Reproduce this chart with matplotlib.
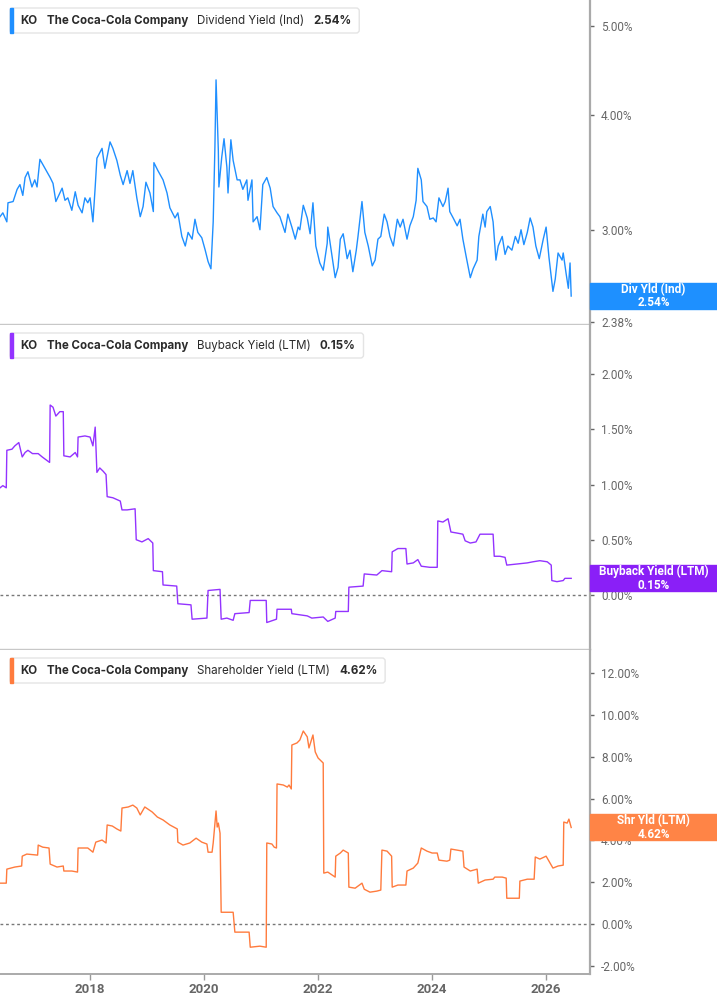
import matplotlib
matplotlib.use("Agg")
import numpy as np
import matplotlib.pyplot as plt
from matplotlib.patches import Rectangle, FancyBboxPatch
from matplotlib.ticker import FixedLocator, NullLocator, FuncFormatter
from matplotlib.transforms import IdentityTransform

plt.rcParams["font.family"] = ["Roboto", "DejaVu Sans"]

# ---- data (decimal years, values in %) ----
div_years = [2016.42, 2016.47, 2016.54, 2016.56, 2016.65, 2016.72, 2016.77, 2016.82, 2016.86, 2016.91,
             2016.98, 2017.03, 2017.07, 2017.12, 2017.21, 2017.30, 2017.35, 2017.40, 2017.47, 2017.51,
             2017.56, 2017.61, 2017.68, 2017.74, 2017.79, 2017.86, 2017.91, 2017.96, 2018.00, 2018.05,
             2018.09, 2018.12, 2018.21, 2018.26, 2018.35, 2018.40, 2018.47, 2018.53, 2018.58, 2018.65,
             2018.70, 2018.75, 2018.82, 2018.88, 2018.93, 2018.98, 2019.05, 2019.11, 2019.12, 2019.19,
             2019.28, 2019.35, 2019.40, 2019.49, 2019.54, 2019.61, 2019.67, 2019.72, 2019.79, 2019.84,
             2019.89, 2019.96, 2020.02, 2020.07, 2020.12, 2020.16, 2020.19, 2020.21, 2020.25, 2020.26,
             2020.31, 2020.35, 2020.40, 2020.42, 2020.47, 2020.51, 2020.58, 2020.63, 2020.68, 2020.75,
             2020.77, 2020.84, 2020.86, 2020.93, 2020.98, 2021.03, 2021.10, 2021.16, 2021.21, 2021.28,
             2021.33, 2021.42, 2021.47, 2021.54, 2021.60, 2021.65, 2021.68, 2021.74, 2021.81, 2021.86,
             2021.91, 2021.96, 2022.03, 2022.09, 2022.16, 2022.17, 2022.24, 2022.30, 2022.35, 2022.39,
             2022.44, 2022.51, 2022.56, 2022.61, 2022.67, 2022.70, 2022.77, 2022.82, 2022.88, 2022.95,
             2023.00, 2023.05, 2023.10, 2023.16, 2023.21, 2023.26, 2023.32, 2023.39, 2023.44, 2023.49,
             2023.56, 2023.61, 2023.67, 2023.72, 2023.75, 2023.81, 2023.84, 2023.91, 2023.96, 2024.02,
             2024.07, 2024.12, 2024.19, 2024.23, 2024.28, 2024.31, 2024.37, 2024.44, 2024.49, 2024.54,
             2024.60, 2024.67, 2024.72, 2024.79, 2024.82, 2024.89, 2024.93, 2024.96, 2025.02, 2025.07,
             2025.12, 2025.16, 2025.23, 2025.28, 2025.33, 2025.40, 2025.46, 2025.51, 2025.56, 2025.61,
             2025.67, 2025.72, 2025.77, 2025.82, 2025.88, 2025.95, 2026.00, 2026.05, 2026.12, 2026.16,
             2026.21, 2026.28, 2026.30, 2026.35, 2026.39, 2026.42, 2026.44]
div_yield = [3.10, 3.13, 3.06, 3.21, 3.22, 3.32, 3.36, 3.27, 3.42, 3.47,
             3.34, 3.40, 3.34, 3.58, 3.50, 3.42, 3.37, 3.22, 3.29, 3.33,
             3.23, 3.25, 3.15, 3.30, 3.19, 3.13, 3.25, 3.21, 3.25, 3.06,
             3.34, 3.59, 3.68, 3.50, 3.74, 3.68, 3.57, 3.44, 3.36, 3.48,
             3.37, 3.48, 3.25, 3.10, 3.18, 3.38, 3.29, 3.14, 3.55, 3.48,
             3.40, 3.29, 3.17, 3.09, 3.13, 2.95, 2.88, 2.98, 2.93, 3.08,
             2.98, 2.94, 2.85, 2.77, 2.72, 3.06, 3.69, 4.37, 3.66, 3.34,
             3.60, 3.77, 3.51, 3.29, 3.76, 3.57, 3.40, 3.40, 3.32, 3.40,
             3.23, 3.40, 3.06, 3.10, 3.00, 3.36, 3.42, 3.33, 3.18, 3.13,
             3.10, 2.98, 3.12, 3.02, 2.93, 3.02, 3.00, 3.19, 3.09, 2.97,
             3.21, 2.88, 2.76, 2.71, 2.90, 3.02, 2.82, 2.66, 2.73, 2.93,
             2.97, 2.79, 2.85, 2.70, 2.85, 2.95, 3.22, 2.98, 2.88, 2.74,
             2.78, 2.93, 2.95, 3.12, 3.06, 2.95, 2.88, 3.08, 3.02, 3.08,
             2.93, 3.03, 3.10, 3.23, 3.50, 3.40, 3.22, 3.18, 3.08, 3.09,
             3.06, 3.25, 3.18, 3.22, 3.33, 3.14, 3.09, 3.03, 3.08, 2.93,
             2.80, 2.66, 2.72, 2.78, 2.95, 3.12, 3.02, 3.14, 3.18, 3.06,
             2.78, 2.88, 2.95, 2.82, 2.88, 2.85, 2.95, 2.90, 3.00, 2.89,
             2.98, 3.09, 3.02, 2.88, 2.79, 2.93, 3.02, 2.80, 2.57, 2.65,
             2.83, 2.78, 2.83, 2.69, 2.59, 2.76, 2.54]

bb_years = [2016.42, 2016.47, 2016.53, 2016.54, 2016.63, 2016.68, 2016.75, 2016.81, 2016.86, 2016.91,
            2016.99, 2017.09, 2017.16, 2017.29, 2017.30, 2017.35, 2017.40, 2017.47, 2017.53, 2017.54,
            2017.65, 2017.74, 2017.78, 2017.79, 2017.91, 2018.00, 2018.05, 2018.09, 2018.12, 2018.17,
            2018.23, 2018.28, 2018.30, 2018.40, 2018.53, 2018.56, 2018.65, 2018.79, 2018.81, 2018.91,
            2019.02, 2019.10, 2019.11, 2019.27, 2019.28, 2019.52, 2019.54, 2019.77, 2019.79, 2020.05,
            2020.07, 2020.28, 2020.30, 2020.40, 2020.51, 2020.54, 2020.79, 2020.81, 2021.09, 2021.10,
            2021.27, 2021.28, 2021.53, 2021.54, 2021.81, 2021.89, 2022.09, 2022.17, 2022.30, 2022.31,
            2022.53, 2022.54, 2022.79, 2022.81, 2023.03, 2023.12, 2023.29, 2023.30, 2023.40, 2023.54,
            2023.56, 2023.67, 2023.75, 2023.81, 2023.96, 2024.09, 2024.10, 2024.19, 2024.28, 2024.33,
            2024.44, 2024.54, 2024.58, 2024.67, 2024.77, 2024.84, 2024.96, 2025.07, 2025.09, 2025.19,
            2025.28, 2025.31, 2025.49, 2025.67, 2025.77, 2025.89, 2026.02, 2026.09, 2026.10, 2026.19,
            2026.30, 2026.33, 2026.44]
bb_yield = [0.97, 0.99, 0.97, 1.31, 1.32, 1.35, 1.38, 1.25, 1.29, 1.31,
            1.28, 1.28, 1.25, 1.20, 1.72, 1.70, 1.62, 1.66, 1.66, 1.26,
            1.25, 1.29, 1.25, 1.43, 1.44, 1.43, 1.35, 1.52, 1.11, 1.15,
            1.12, 1.09, 0.89, 0.88, 0.85, 0.77, 0.77, 0.78, 0.50, 0.48,
            0.51, 0.47, 0.22, 0.21, 0.09, 0.08, -0.08, -0.09, -0.22, -0.21,
            0.04, 0.05, -0.22, -0.21, -0.23, -0.17, -0.16, -0.05, -0.05, -0.25,
            -0.22, -0.13, -0.13, -0.17, -0.19, -0.21, -0.20, -0.24, -0.21, -0.15,
            -0.15, 0.07, 0.08, 0.19, 0.18, 0.22, 0.21, 0.39, 0.42, 0.42,
            0.28, 0.29, 0.32, 0.26, 0.25, 0.25, 0.67, 0.66, 0.69, 0.57,
            0.56, 0.55, 0.49, 0.47, 0.48, 0.55, 0.55, 0.55, 0.35, 0.35,
            0.34, 0.27, 0.28, 0.29, 0.30, 0.31, 0.30, 0.27, 0.13, 0.12,
            0.13, 0.15, 0.15]

shr_years = [2016.42, 2016.53, 2016.54, 2016.68, 2016.80, 2016.81, 2016.89, 2017.08, 2017.09, 2017.17,
             2017.28, 2017.30, 2017.42, 2017.53, 2017.54, 2017.68, 2017.78, 2017.79, 2017.96, 2018.05,
             2018.10, 2018.21, 2018.28, 2018.30, 2018.39, 2018.47, 2018.54, 2018.56, 2018.67, 2018.75,
             2018.82, 2018.88, 2018.96, 2019.09, 2019.18, 2019.28, 2019.40, 2019.53, 2019.54, 2019.63,
             2019.75, 2019.86, 2019.96, 2020.05, 2020.07, 2020.14, 2020.16, 2020.21, 2020.23, 2020.25,
             2020.28, 2020.30, 2020.51, 2020.54, 2020.79, 2020.81, 2020.98, 2021.09, 2021.10, 2021.19,
             2021.23, 2021.27, 2021.28, 2021.39, 2021.46, 2021.49, 2021.53, 2021.54, 2021.63, 2021.68,
             2021.74, 2021.81, 2021.84, 2021.91, 2021.95, 2022.00, 2022.07, 2022.09, 2022.10, 2022.17,
             2022.30, 2022.31, 2022.39, 2022.44, 2022.53, 2022.54, 2022.65, 2022.77, 2022.81, 2022.91,
             2023.03, 2023.10, 2023.12, 2023.21, 2023.29, 2023.30, 2023.40, 2023.54, 2023.56, 2023.67,
             2023.75, 2023.81, 2023.91, 2024.00, 2024.09, 2024.12, 2024.26, 2024.31, 2024.33, 2024.44,
             2024.54, 2024.56, 2024.67, 2024.79, 2024.81, 2024.93, 2025.07, 2025.10, 2025.23, 2025.30,
             2025.31, 2025.42, 2025.53, 2025.54, 2025.67, 2025.79, 2025.81, 2025.89, 2026.00, 2026.07,
             2026.12, 2026.21, 2026.30, 2026.31, 2026.37, 2026.40, 2026.44]
shr_yield = [1.96, 1.96, 2.63, 2.73, 2.78, 3.25, 3.35, 3.30, 3.78, 3.68,
             3.64, 2.87, 2.73, 2.78, 2.54, 2.54, 2.49, 3.64, 3.64, 3.44,
             3.92, 4.02, 3.88, 4.74, 4.69, 4.55, 4.45, 5.55, 5.60, 5.69,
             5.55, 5.22, 5.60, 5.36, 5.12, 4.98, 4.74, 4.55, 3.92, 3.78,
             3.88, 4.11, 3.92, 3.83, 3.44, 3.44, 3.88, 5.41, 4.64, 4.83,
             4.35, 0.57, 0.57, -0.38, -0.38, -1.10, -1.05, -1.10, 3.88, 3.83,
             3.68, 3.64, 6.70, 6.65, 6.55, 6.65, 6.46, 8.56, 8.66, 8.80,
             9.23, 8.95, 8.42, 9.04, 8.23, 7.94, 7.75, 7.70, 2.44, 2.49,
             2.25, 3.25, 3.40, 3.54, 3.40, 1.77, 1.72, 1.96, 1.67, 1.53,
             1.58, 1.63, 3.54, 3.49, 3.25, 1.77, 1.87, 1.87, 2.54, 2.68,
             2.92, 3.64, 3.49, 3.40, 3.40, 3.06, 3.01, 3.06, 3.59, 3.54,
             3.49, 2.73, 2.54, 2.63, 1.96, 2.11, 2.15, 2.25, 2.25, 2.20,
             1.24, 1.24, 1.24, 2.06, 2.15, 2.15, 3.21, 3.11, 3.25, 2.92,
             2.68, 2.78, 2.82, 4.88, 4.83, 5.02, 4.62]

year_ticks = [2018, 2020, 2022, 2024, 2026]
div_ticks = [2.38, 2.56, 3.00, 4.00, 5.00]
bb_ticks = [0.0, 0.5, 1.0, 1.5, 2.0]
shr_ticks = [-2, 0, 2, 4, 6, 8, 10, 12]

company = ["KO", "The Coca-Cola Company"]
series_names = ["Dividend Yield (Ind)", "Buyback Yield (LTM)", "Shareholder Yield (LTM)"]
short_names = ["Div Yld (Ind)", "Buyback Yield (LTM)", "Shr Yld (LTM)"]
line_colors = ["#1f8fff", "#9333ff", "#ff7b3d"]
box_colors = ["#1e90ff", "#8a1ff7", "#ff8446"]

# ---- figure, pixel based layout ----
W, H = 717, 1005
fig = plt.figure(figsize=(W / 100, H / 100), dpi=100)
renderer = fig.canvas.get_renderer()
PX = IdentityTransform()

panel_px = [(0, 324), (325, 649), (650, 974)]
axes = []
for top, bot in panel_px:
    ax = fig.add_axes([0, 1 - bot / H, 590 / W, (bot - top) / H])
    axes.append(ax)

pct = FuncFormatter(lambda v, p: f"{v:.2f}%")

for i, ax in enumerate(axes):
    ax.set_xlim(2016.42, 2026.77)
    ax.yaxis.tick_right()
    for s in ["top", "left"]:
        ax.spines[s].set_visible(False)
    ax.spines["right"].set_color("#aaaaaa")
    ax.spines["right"].set_linewidth(1.6)
    ax.spines["bottom"].set_color("#c8c8c8" if i < 2 else "#aaaaaa")
    ax.spines["bottom"].set_linewidth(1.0 if i < 2 else 1.4)
    ax.tick_params(axis="y", direction="out", length=3, width=1, color="#666666",
                   labelsize=8.5, labelcolor="#666666", pad=5)
    ax.yaxis.set_minor_locator(NullLocator())
    if i < 2:
        ax.tick_params(axis="x", length=0, labelbottom=False)

ax1, ax2, ax3 = axes
ax1.set_yscale("log")
ax1.set_ylim(2.368, 5.34)
ax1.yaxis.set_major_locator(FixedLocator(div_ticks))
ax1.yaxis.set_minor_locator(NullLocator())
ax1.yaxis.set_major_formatter(pct)
ax1.plot(div_years, div_yield, color=line_colors[0], lw=1.0)

ax2.set_ylim(-0.49, 2.445)
ax2.yaxis.set_major_locator(FixedLocator(bb_ticks))
ax2.yaxis.set_major_formatter(pct)
ax2.axhline(0, color="#777777", lw=1, ls=(0, (2, 2)))
ax2.plot(bb_years, bb_yield, color=line_colors[1], lw=1.0)

ax3.set_ylim(-2.38, 13.1)
ax3.yaxis.set_major_locator(FixedLocator(shr_ticks))
ax3.yaxis.set_major_formatter(pct)
ax3.axhline(0, color="#777777", lw=1, ls=(0, (2, 2)))
ax3.plot(shr_years, shr_yield, color=line_colors[2], lw=1.0)
ax3.set_xticks(year_ticks)
ax3.set_xticklabels([str(y) for y in year_ticks])
ax3.tick_params(axis="x", direction="out", length=4, width=1, color="#999999",
                labelsize=9.5, labelcolor="#666666", pad=2.5)
for lbl in ax3.get_xticklabels():
    lbl.set_fontweight("bold")

# ---- legend boxes (top left of each panel) ----
values = [div_yield[-1], bb_yield[-1], shr_yield[-1]]
for i, (top, bot) in enumerate(panel_px):
    yc = H - (top + 20.5)
    parts = [(company[0], "bold"), (company[1], "bold"),
             (series_names[i], "normal"), (f"{values[i]:.2f}%", "bold")]
    x = 20.5
    for txt, wt in parts:
        t = fig.text(x, yc, txt, transform=PX, fontsize=8.3, fontweight=wt,
                     color="#2b2b2b", va="center", ha="left", family="Inter", zorder=6)
        bb = t.get_window_extent(renderer)
        x = bb.x1 + 9
    right = x - 9 + 8
    box = FancyBboxPatch((10, H - (top + 33)), right - 10, 25,
                         boxstyle="round,pad=0,rounding_size=3", transform=PX,
                         facecolor="white", edgecolor="#e4e4e4", lw=1, zorder=5)
    fig.add_artist(box)
    fig.add_artist(Rectangle((10, H - (top + 33)), 3, 25, transform=PX,
                             color=line_colors[i], zorder=5.5))

# ---- last value boxes on the right axis ----
series_last = [(div_years[-1], div_yield[-1]), (bb_years[-1], bb_yield[-1]),
               (shr_years[-1], shr_yield[-1])]
for i, ax in enumerate(axes):
    xv, yv = series_last[i]
    ypix = ax.transData.transform((xv, yv))[1]
    fig.add_artist(Rectangle((590, ypix - 13), 127, 26, transform=PX,
                             color=box_colors[i], zorder=5))
    fig.text(653.5, ypix, f"{short_names[i]}\n{yv:.2f}%", transform=PX,
             ha="center", va="center", color="white", fontsize=8.5,
             fontweight="bold", linespacing=1.05, zorder=6)

fig.savefig("out.png", dpi=100)
